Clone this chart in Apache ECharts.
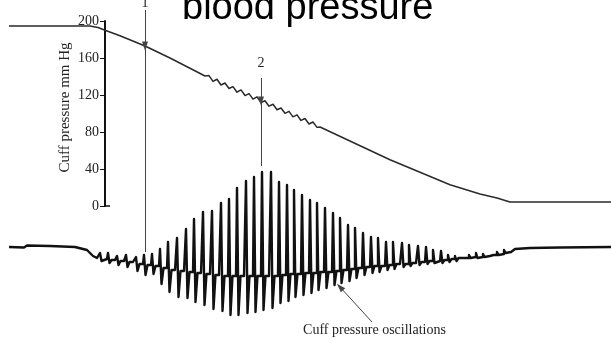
<!DOCTYPE html>
<html>
<head>
<meta charset="utf-8">
<title>blood pressure</title>
<script src="https://cdn.jsdelivr.net/npm/echarts@6/dist/echarts.min.js"></script>
<style>
html,body{margin:0;padding:0;background:#fff;}
#chart{width:611px;height:339px;}
</style>
</head>
<body>
<div id="chart"></div>
<script>
// time in seconds, 0 where the pressure scale sits
var pressureTime = [-9.6, -1.5, -0.7, 0, 1.5, 4, 6.5,
	10, 10.4, 10.8, 11.2, 11.6, 12, 12.4, 12.8, 13.2, 13.6,
	14, 14.4, 14.8, 15.2, 15.6, 16, 16.4, 16.8, 17.2, 17.6,
	18, 18.4, 18.8, 19.2, 19.6, 20, 20.4, 20.8, 21.2, 21.5,
	28.5, 34.5, 37.5, 39.2, 40.5, 50.6];
var pressureValue = [194.6, 194.6, 193, 190, 184, 173, 160,
	140.5, 141, 134.7, 137, 130.8, 133, 127, 129, 123, 125.5,
	119.4, 121.5, 115.5, 118, 111.7, 113.8, 107.9, 110, 104, 106,
	100.2, 102.3, 96.4, 98.5, 92.5, 94.6, 88.7, 90.8, 85, 85.4,
	50, 23, 13, 8.6, 4.3, 4.3];
var pressureTicks = [0, 40, 80, 120, 160, 200];

// oscillation trace (arbitrary units, 0 = resting baseline)
var beatTime = [-0.5, 0.3, 1.2, 2.1, 3.1, 3.9, 4.7, 5.5, 6.3, 7.2,
	8.1, 8.9, 9.8, 10.7, 11.6, 12.4, 13.2, 14.1, 14.9, 15.7,
	16.6, 17.4, 18.2, 18.9, 19.7, 20.5, 21.2, 22.0, 22.8, 23.5,
	24.3, 25.0, 25.8, 26.6, 27.3, 28.1, 28.8, 29.7, 30.4, 31.3,
	32.1, 32.8, 33.6, 34.3, 35.0, 35.7, 36.4, 37.1, 37.8, 38.5,
	39.2, 39.9];
var beatPeak = [-6, -6, -9, -8, -10, -8, -7, -2, 5, 9,
	18, 28, 35, 36, 44, 48, 59, 66, 70, 75,
	75, 65, 62, 57, 52, 47, 44, 39, 34, 29,
	22, 19, 14, 10, 9, 5, 5, 4, 2, 1,
	0, -3, -4, -8, -9, -9, -8, -6, -7, -7,
	-5, -3];
var beatTrough = [-14, -16, -18, -20, -24, -28, -27, -37, -45, -50,
	-51, -55, -58, -62, -64, -68, -68, -66, -65, -63,
	-61, -56, -54, -50, -48, -46, -43, -41, -38, -36,
	-34, -31, -28, -26, -25, -23, -22, -20, -19, -18,
	-17, -16, -16, -15, -14, -13, -11, -11, -10, -9,
	-8, -6];
var beatMid = [-12, -13, -14, -15, -17, -18, -19, -21, -23, -24,
	-25, -26, -27, -28, -29, -29, -29, -29, -29, -29,
	-29, -28, -27, -27, -26, -26, -25, -25, -24, -23,
	-22, -21, -20, -19, -19, -18, -17, -17, -16, -15,
	-14, -14, -13, -12, -11, -11, -10, -10, -9, -8,
	-7, -5];
var oscStartTime = [-9.6, -8.1, -7.8, -5.5, -3, -1.8, -1.2, -0.8];
var oscStartValue = [0, -0.5, 1.5, 1, 0, -3, -9, -11];
var oscEndTime = [41, 42.5, 45.5, 50.6];
var oscEndValue = [-2, -1, -0.5, 0];

var serif = 'Liberation Serif';

function pressureData(){
	return pressureTime.map(function(t, i){ return [t, pressureValue[i]]; });
}
function oscillationData(){
	var pts = [];
	oscStartTime.forEach(function(t, i){ pts.push([t, oscStartValue[i]]); });
	// each beat: sharp rise to peak, drop to trough, back to the running baseline
	beatTime.forEach(function(t, i){
		pts.push([t, beatPeak[i]]);
		pts.push([t + 0.15, beatTrough[i]]);
		pts.push([t + 0.35, beatMid[i]]);
		pts.push([t + 0.7, beatMid[i]]);
	});
	oscEndTime.forEach(function(t, i){ pts.push([t, oscEndValue[i]]); });
	return pts;
}

var myChart = echarts.init(document.getElementById('chart'));
var option = {
	animation: false,
	title: {
		text: 'blood pressure',
		left: 182,
		top: -10,
		padding: 0,
		textStyle: {fontFamily: 'Liberation Sans', fontSize: 38, fontWeight: 'normal', color: '#000'}
	},
	grid: [
		{left: 9, right: 0, top: 21, bottom: 133, containLabel: false, outerBoundsMode: 'none'},
		{left: 9, right: 0, top: 0, bottom: 0, containLabel: false, outerBoundsMode: 'none'}
	],
	xAxis: [
		{gridIndex: 0, type: 'value', min: -9.6, max: 50.6, show: false},
		{gridIndex: 1, type: 'value', min: -9.6, max: 50.6, show: false}
	],
	yAxis: [
		{
			gridIndex: 0, type: 'value', min: 0, max: 200, interval: 40,
			offset: -96, // pressure scale sits at t = 0, inside the grid
			name: 'Cuff pressure mm Hg',
			nameLocation: 'middle',
			nameGap: 32,
			nameMoveOverlap: false,
			nameTextStyle: {fontFamily: serif, fontSize: 15, color: '#222', padding: [0, 0, 0, 12]},
			axisLine: {show: true, onZero: false, lineStyle: {color: '#111', width: 2}},
			axisTick: {show: true, length: 5, lineStyle: {color: '#111', width: 1}},
			axisLabel: {
				margin: 6, fontFamily: serif, fontSize: 14, color: '#222',
				formatter: function(v){ return pressureTicks.indexOf(v) >= 0 ? String(v) : ''; }
			},
			splitLine: {show: false}
		},
		{gridIndex: 1, type: 'value', min: -92, max: 247, show: false}
	],
	series: [
		{
			name: 'Cuff pressure',
			type: 'line',
			xAxisIndex: 0, yAxisIndex: 0,
			data: pressureData(),
			showSymbol: false,
			lineStyle: {color: '#2a2a2a', width: 1.5, join: 'round'},
			markLine: {
				silent: true, animation: false, symbol: ['none', 'none'],
				label: {show: false},
				lineStyle: {color: '#111', width: 1.5, type: 'solid'},
				data: [[{coord: [0, 0]}, {coord: [0.5, 0]}]]
			}
		},
		{
			name: 'Cuff pressure oscillations',
			type: 'line',
			xAxisIndex: 1, yAxisIndex: 1,
			data: oscillationData(),
			showSymbol: false,
			lineStyle: {color: '#111', width: 2.4, join: 'round'},
			markLine: {
				silent: true, animation: false, symbol: ['none', 'none'],
				label: {show: false},
				lineStyle: {color: '#444', width: 1, type: 'solid'},
				data: [
					[{coord: [4, 237]}, {coord: [4, 201], symbol: 'triangle', symbolSize: [6, 9], symbolRotate: 180}],
					[{coord: [4, 201]}, {coord: [4, -5]}],
					[{coord: [15.6, 169]}, {coord: [15.6, 146], symbol: 'triangle', symbolSize: [6, 9], symbolRotate: 180}],
					[{coord: [15.6, 146]}, {coord: [15.6, 81]}],
					[{coord: [23.5, -40], symbol: 'triangle', symbolSize: [6, 9]}, {coord: [26.7, -75]}]
				]
			},
			markPoint: {
				silent: true, animation: false, symbol: 'rect', symbolSize: 1,
				itemStyle: {color: 'rgba(0,0,0,0)'},
				label: {show: true, position: 'inside', formatter: '{b}', color: '#222', fontFamily: serif, fontSize: 14},
				data: [
					{name: '1', coord: [4, 244]},
					{name: '2', coord: [15.6, 184]},
					{name: 'Cuff pressure oscillations', coord: [26.95, -83]}
				]
			}
		}
	]
};
myChart.setOption(option);
</script>
</body>
</html>
